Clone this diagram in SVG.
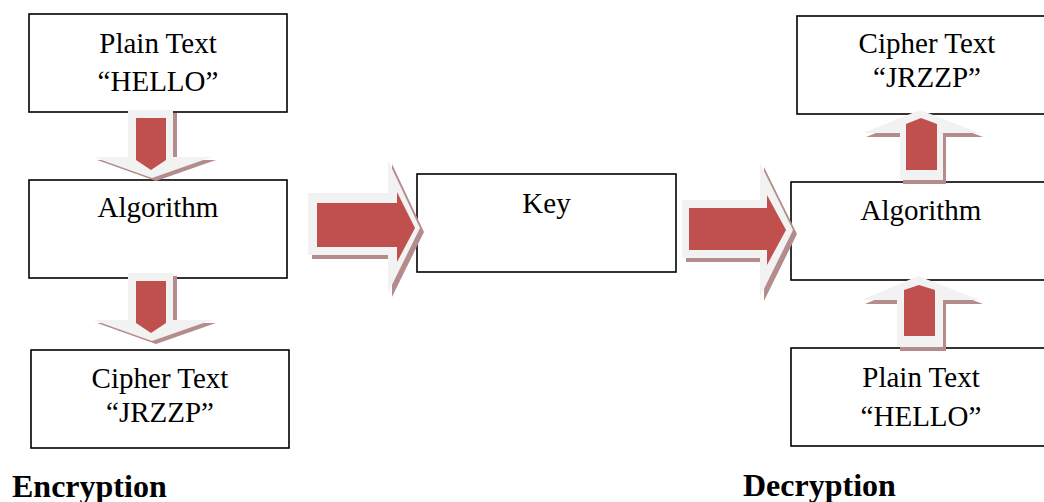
<svg xmlns="http://www.w3.org/2000/svg" width="1044" height="502" viewBox="0 0 1044 502">
<style>
.box{fill:#fff;stroke:#000;stroke-width:1.6}
.t{font-family:"Liberation Serif","Times New Roman",serif;font-size:29px;fill:#000;text-anchor:middle}
.h{font-family:"Liberation Serif","Times New Roman",serif;font-size:32px;font-weight:bold;fill:#000}
.sh{fill:#b48c8c}
.gr{fill:#f2f2f2}
.rd{fill:#c0504d}
</style>
<rect width="1044" height="502" fill="#fff"/>
<g id="enc-plain"><rect class="box" x="29" y="14" width="258" height="98"/><text class="t" x="158" y="53">Plain Text</text><text class="t" x="158" y="91">“HELLO”</text></g>
<g id="enc-algo"><rect class="box" x="29" y="180" width="258" height="98"/><text class="t" x="158" y="217">Algorithm</text></g>
<g id="enc-cipher"><rect class="box" x="31" y="350" width="258" height="98"/><text class="t" x="160" y="388">Cipher Text</text><text class="t" x="160" y="422">“JRZZP”</text></g>
<g id="key"><rect class="box" x="417" y="174" width="259" height="98"/><text class="t" x="546.5" y="213">Key</text></g>
<g id="dec-cipher"><rect class="box" x="797" y="16" width="260" height="98"/><text class="t" x="927" y="53">Cipher Text</text><text class="t" x="927" y="87">“JRZZP”</text></g>
<g id="dec-algo"><rect class="box" x="791" y="182" width="260" height="98"/><text class="t" x="921" y="220">Algorithm</text></g>
<g id="dec-plain"><rect class="box" x="791" y="348" width="260" height="98"/><text class="t" x="921" y="387">Plain Text</text><text class="t" x="921" y="426">“HELLO”</text></g>
<g id="connectors">
<g id="down1">
<path class="sh" transform="translate(4,3)" d="M128,110 H173 V157 H212 L152,178 L93,157 H128 Z"/>
<path class="gr" d="M128,110 H173 V157 H212 L152,178 L93,157 H128 Z"/>
<path class="rd" d="M136,118 H166 V160 L151,170 L136,160 Z"/>
</g>
<g id="down2" transform="translate(0,163)">
<path class="sh" transform="translate(4,3)" d="M128,110 H173 V157 H212 L152,178 L93,157 H128 Z"/>
<path class="gr" d="M128,110 H173 V157 H212 L152,178 L93,157 H128 Z"/>
<path class="rd" d="M136,118 H166 V160 L151,170 L136,160 Z"/>
</g>
<g id="right1">
<path class="sh" transform="translate(4,4)" d="M308,193 H388 V160 L420,228 L388,293 V255 H308 Z"/>
<path class="gr" d="M308,193 H388 V160 L420,228 L388,293 V255 H308 Z"/>
<path class="rd" d="M317,203 H397 V192 L415,228 L397,262 V247 H317 Z"/>
</g>
<g id="right2">
<path class="sh" transform="translate(4,4)" d="M682,200 H760 V163 L793,230 L760,297 V258 H682 Z"/>
<path class="gr" d="M682,200 H760 V163 L793,230 L760,297 V258 H682 Z"/>
<path class="rd" d="M689,208 H767 V195 L786,230 L767,265 V250 H689 Z"/>
</g>
<g id="up1">
<path class="sh" transform="translate(3,4)" d="M920,110 L980,133 H943 V180 H900 V133 H863 Z"/>
<path class="gr" d="M920,110 L980,133 H943 V180 H900 V133 H863 Z"/>
<path class="rd" d="M906,124 L921,118 L937,124 V170 H906 Z"/>
</g>
<g id="up2">
<path class="sh" transform="translate(3,4)" d="M918,276 L980,300 H943 V347 H897 V300 H862 Z"/>
<path class="gr" d="M918,276 L980,300 H943 V347 H897 V300 H862 Z"/>
<path class="rd" d="M904,290 L919,285 L935,290 V336 H904 Z"/>
</g>
</g>
<text class="h" x="12" y="497">Encryption</text>
<text class="h" x="743" y="496">Decryption</text>
</svg>
